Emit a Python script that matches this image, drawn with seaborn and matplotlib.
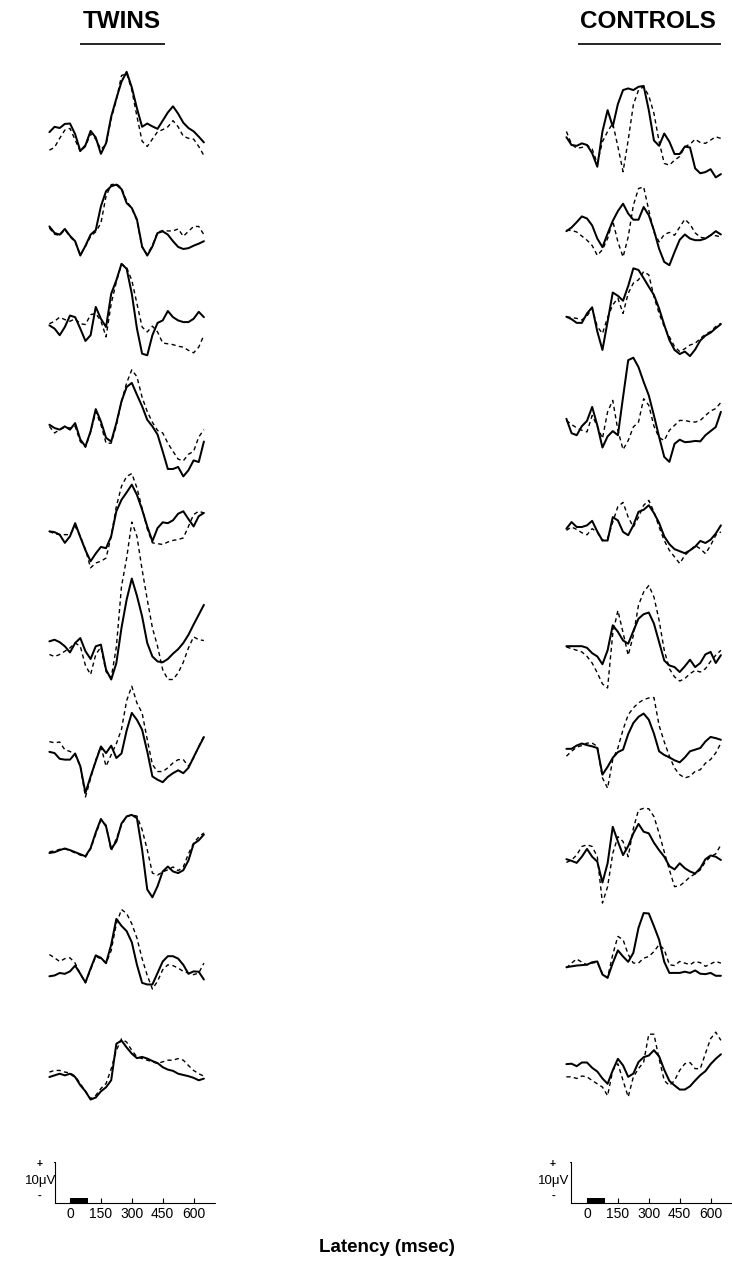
import matplotlib
matplotlib.use("Agg")
import matplotlib.pyplot as plt
import pandas as pd
import seaborn as sns

# ---------------------------------------------------------------------------
# Data: averaged ERP waveforms (microvolts), sampled every 25 ms
# ---------------------------------------------------------------------------
latency_ms = [-100, -75, -50, -25, 0, 25, 50, 75, 100, 125, 150, 175, 200,
              225, 250, 275, 300, 325, 350, 375, 400, 425, 450, 475, 500,
              525, 550, 575, 600, 625, 650]

twins_solid = [
    [0.7, 2.0, 1.7, 2.7, 2.8, 0.2, -3.9, -2.5, 1.0, -0.6, -4.6, -2.0, 4.5, 8.9, 13.0, 15.4, 11.6, 6.5, 2.0, 2.8, 2.1, 1.5, 3.5, 5.5, 7.0, 5.2, 3.0, 1.7, 0.9, -0.4, -1.8],
    [1.6, 0, -0.4, 1.0, -0.7, -2.0, -5.5, -3.1, -0.4, 0.7, 6.5, 10.2, 11.4, 11.8, 10.7, 7.3, 6.1, 3.3, -3.3, -5.5, -3.3, 0, 0.4, -0.4, -2.0, -3.4, -3.9, -3.7, -3.1, -2.6, -2.0],
    [0.4, -0.4, -2.0, 0, 2.8, 2.4, -0.4, -3.4, -2.0, 4.9, 2.0, 0, 8.1, 11.4, 15.4, 14.2, 8.1, -0.4, -6.5, -6.9, -2.0, 1.0, 1.6, 3.9, 2.4, 1.6, 1.2, 1.2, 2.0, 3.7, 2.4],
    [0.8, 0, -0.4, 0.4, -0.4, 1.2, -2.8, -4.5, -0.8, 4.6, 1.6, -2.4, -3.3, 1.2, 6.5, 10.0, 11.0, 8.1, 5.3, 2.0, 0.4, -1.6, -5.7, -10.0, -10.0, -9.5, -11.8, -10.3, -7.9, -8.3, -3.3],
    [0.4, 0.2, -0.4, -2.4, -0.8, 2.4, -1.0, -4.2, -6.9, -5.0, -3.4, -3.7, -0.8, 5.3, 8.1, 9.9, 11.8, 9.3, 5.7, 1.6, -2.0, 1.2, 2.6, 2.4, 3.1, 4.7, 5.3, 3.4, 1.6, 4.1, 4.9],
    [0.4, 0.8, 0.2, -0.8, -2.3, 0, 1.2, -2.0, -3.9, -0.8, -0.4, -6.5, -8.9, -4.9, 3.7, 10.6, 15.7, 11.5, 6.5, 0, -3.3, -4.5, -4.7, -3.9, -2.6, -1.5, 0, 2.0, 4.5, 6.9, 9.3],
    [1.5, 1.2, -0.2, -0.4, -0.4, 1.1, -2.0, -8.5, -4.5, -0.8, 2.8, 1.2, 3.0, 0, 1.1, 6.7, 11.0, 9.3, 6.9, 1.6, -4.5, -5.3, -5.9, -4.6, -3.7, -3.0, -3.7, -2.4, 0.2, 2.7, 5.1],
    [0, 0.2, 0.7, 1.1, 0.7, 0.2, -0.3, -0.8, 1.2, 5.0, 8.3, 6.5, 1.0, 2.8, 7.2, 8.9, 9.3, 8.5, 0.8, -8.9, -10.8, -8.1, -4.5, -3.3, -4.5, -4.9, -4.2, -1.8, 2.2, 3.1, 4.5],
    [-0.8, -0.6, 0, -0.2, 0.4, 1.8, -0.2, -2.3, 1.1, 4.3, 3.7, 2.4, 6.9, 13.2, 11.5, 10.2, 7.5, 2.0, -2.4, -2.8, -2.8, 0, 2.8, 4.1, 4.1, 3.5, 2.0, -0.2, 0.4, 0.3, -1.6],
    [0, 0.4, 0.8, 0.4, 0.8, 0, -2.0, -3.5, -5.5, -5.0, -3.5, -2.5, -0.8, 8.1, 8.9, 7.2, 5.7, 4.6, 4.9, 4.5, 3.9, 3.4, 2.4, 1.8, 1.5, 0.8, 0.5, 0.2, -0.2, -0.8, -0.4],
]

twins_dashed = [
    [-3.7, -3.0, -0.8, 1.2, 1.6, -1.2, -4.0, -2.8, 0.3, -1.0, -3.5, -2.3, 4.0, 8.5, 14.5, 15.0, 11.0, 4.5, -1.5, -2.8, -1.0, 0.8, 1.3, 2.0, 3.5, 2.0, -0.3, -0.8, -1.0, -2.8, -5.0],
    [1.2, -0.3, -0.6, 0.8, -0.9, -2.2, -5.3, -3.3, -0.8, 0.3, 2.4, 9.0, 11.8, 12.0, 11.0, 7.8, 6.0, 3.0, -3.5, -5.3, -3.0, 0.2, 0.6, 0.5, 0.5, 1.0, -0.8, 0.4, 1.6, 1.6, -0.4],
    [0.8, 1.4, 2.4, 1.8, 1.4, 2.0, 0.8, 0.6, 3.0, 3.3, 1.5, -2.4, 5.7, 11.0, 15.4, 14.5, 11.4, 5.7, 0, -1.2, 0.2, -1.2, -3.9, -4.1, -4.3, -4.7, -4.9, -5.7, -6.3, -4.9, -2.0],
    [0.4, -1.2, -0.4, 0.2, 0, 0.4, -3.3, -4.7, -1.0, 4.0, 0.8, -3.7, -3.7, 0.6, 6.5, 11.0, 14.2, 12.5, 7.5, 4.0, 1.4, -0.6, -1.2, -3.7, -5.7, -7.6, -8.0, -6.4, -5.7, -2.2, -0.4],
    [0.4, -0.2, -0.4, -0.4, -0.4, 1.6, -0.8, -4.0, -8.5, -7.3, -6.9, -6.1, -0.8, 6.5, 11.4, 13.8, 14.5, 11.0, 6.0, 1.0, -2.4, -2.6, -2.8, -2.2, -1.8, -1.6, -1.2, 1.6, 4.5, 5.3, 4.9],
    [-2.8, -3.3, -2.8, -2.0, -1.2, 0, -0.8, -5.5, -7.7, -2.8, -1.0, -7.0, -8.5, -1.0, 13.8, 20.7, 29.5, 26.0, 17.9, 10.6, 3.7, -0.8, -6.5, -8.9, -8.9, -7.3, -4.7, -1.2, 1.5, 0.8, 0.6],
    [4.0, 3.7, 3.9, 2.0, 1.6, 0.8, -2.0, -9.5, -5.0, -0.5, 2.8, -2.0, 0.8, 3.5, 7.0, 14.0, 17.5, 13.4, 11.0, 4.5, -1.6, -3.3, -3.3, -2.4, -1.2, -0.4, -0.4, -2.0, 0, 2.8, 5.3],
    [0.3, 0.5, 0.9, 1.0, 0.6, 0.0, -0.5, -1.0, 1.0, 4.6, 8.0, 6.8, 0.5, 3.5, 6.8, 9.0, 9.3, 9.0, 5.7, 0.8, -4.9, -5.4, -4.6, -4.1, -3.4, -4.3, -3.4, -0.2, 2.4, 3.9, 4.9],
    [4.5, 3.7, 2.8, 3.5, 3.7, 2.4, -0.2, -2.4, 0.8, 4.0, 3.5, 2.4, 5.5, 12.0, 15.5, 14.5, 12.0, 8.5, 3.5, -0.6, -3.9, -2.0, 0.8, 2.0, 1.8, 1.2, 0.4, 0, -0.4, 0, 2.4],
    [1.2, 1.6, 1.6, 1.2, 1.0, 0.2, -1.6, -3.5, -5.3, -4.5, -2.8, -1.6, 2.0, 6.5, 9.3, 8.5, 6.5, 4.9, 4.5, 4.1, 3.7, 3.3, 3.7, 4.1, 4.1, 4.5, 4.1, 2.8, 1.6, 0.8, 0.2],
]

controls_solid = [
    [1.9, 0, -0.2, 0.4, 0, -2.0, -5.3, 3.3, 8.5, 4.5, 10.0, 13.4, 13.8, 13.4, 14.2, 14.4, 8.5, 1.1, -0.2, 2.8, 0.8, -2.2, -2.2, -0.4, -0.6, -5.7, -6.9, -6.6, -5.9, -7.9, -7.1],
    [0.2, 1.1, 2.4, 3.8, 3.3, 1.6, -1.6, -3.7, -0.4, 2.7, 5.1, 6.9, 4.5, 3.0, 3.0, 6.1, 4.1, 0.4, -4.1, -7.3, -8.1, -4.9, -1.9, -0.6, -1.6, -2.0, -2.0, -1.6, -0.8, 0.2, -0.6],
    [0.8, 0.2, -0.7, -0.7, 1.6, 3.1, -2.8, -7.3, -0.4, 6.7, 5.9, 4.7, 8.3, 12.6, 12.2, 10.2, 8.1, 6.1, 2.8, -1.2, -4.9, -7.3, -8.3, -7.7, -8.8, -7.2, -5.0, -3.8, -3.1, -2.0, -1.0],
    [2.0, -1.5, -2.0, 0.2, 1.5, 4.9, 0.4, -5.0, -2.3, -1.0, -2.0, 7.3, 16.3, 16.9, 14.6, 11.0, 7.7, 2.8, -2.4, -7.3, -8.5, -4.1, -3.1, -3.7, -3.6, -3.4, -3.5, -2.0, -1.0, 0, 3.7],
    [-0.4, 1.2, 0, 0, 0.4, 1.5, -1.1, -3.3, -3.3, 2.4, 1.6, -1.2, -2.0, 0.4, 3.7, 4.2, 5.3, 3.4, 1.0, -2.3, -4.2, -5.4, -5.9, -6.4, -5.7, -4.8, -3.4, -3.9, -3.1, -1.6, 0.4],
    [0.2, 0.2, 0.2, 0.2, -0.2, -1.5, -2.3, -4.2, -0.8, 5.3, 3.7, 1.6, 0.8, 3.9, 6.9, 8.0, 8.4, 5.7, 1.2, -3.3, -4.5, -4.9, -6.1, -4.7, -3.1, -4.9, -3.9, -1.8, -1.2, -3.9, -2.0],
    [-0.2, -0.2, 0.6, 1.1, 0.7, 0.4, 0, -6.5, -4.6, -2.4, -1.0, -0.4, 3.4, 6.1, 7.6, 8.4, 6.9, 3.5, -0.8, -1.7, -2.3, -3.0, -3.5, -2.3, -0.8, -0.4, 0, 1.6, 2.7, 2.4, 2.0],
    [0.2, -0.2, -0.7, 0.8, 2.7, 0.8, -0.4, -5.5, -0.8, 8.1, 4.5, 1.2, 3.4, 6.5, 8.8, 6.9, 6.5, 4.2, 2.4, 0.8, -1.5, -2.3, -0.8, -2.0, -2.8, -3.3, -2.0, 0.2, 1.1, 0.8, 0],
    [0.2, 0.4, 0.6, 0.7, 0.8, 1.4, 1.6, -1.6, -2.4, 1.2, 4.3, 2.8, 1.5, 3.7, 9.8, 13.4, 13.3, 10.2, 6.9, 1.5, -1.2, -1.2, -1.2, -0.9, -1.2, -0.6, -1.4, -1.5, -1.2, -1.9, -1.9],
    [0.7, 0.8, 0.2, 1.1, 1.1, -0.2, -1.1, -2.8, -4.1, -0.8, 2.0, 0.4, -2.4, -1.6, 1.2, 2.4, 2.8, 4.1, 2.6, -0.7, -3.4, -4.5, -5.5, -5.5, -4.7, -3.3, -2.0, -1.0, 0.7, 2.0, 3.1],
]

controls_dashed = [
    [3.3, 0.2, -0.8, -0.6, 0, -1.0, -4.5, 0.8, 3.3, 5.3, -0.4, -6.5, 1.2, 9.8, 13.4, 14.2, 12.0, 7.7, 0.8, -4.5, -4.9, -3.7, -2.8, -0.4, 0.2, 1.4, 0.6, 0.4, 1.2, 2.0, 1.6],
    [0.4, 0.4, 0, -1.0, -2.0, -3.3, -5.7, -4.3, -1.6, 2.7, -2.4, -6.1, -1.2, 6.5, 10.6, 11.0, 5.3, 0, -2.4, -0.6, -0.1, -0.8, 1.2, 3.1, 1.9, -0.2, -1.3, -1.5, -0.8, -0.9, -1.2],
    [0.8, 0.6, 0.4, 0, 1.0, 2.8, -1.6, -3.3, 0.6, 3.7, 5.3, 1.6, 6.5, 9.0, 9.8, 11.8, 11.0, 5.7, 1.6, -1.6, -4.1, -6.5, -7.7, -7.0, -6.1, -5.7, -4.5, -3.5, -2.8, -1.6, -0.8],
    [1.6, 0.6, -0.2, -0.8, -1.2, 2.8, 0.2, -2.8, 3.7, 6.5, -0.8, -5.5, -3.3, 0, 1.2, 6.9, 5.3, 0.2, -2.6, -3.3, -0.8, 0.4, 1.6, 1.6, 1.3, 1.2, 1.6, 2.8, 3.9, 4.5, 6.0],
    [-0.8, 0, -0.6, -1.4, -1.9, -0.4, -1.3, -3.3, -2.8, 1.2, 5.0, 6.0, 2.4, 0, 2.4, 5.3, 6.5, 3.7, 0, -3.3, -5.7, -7.3, -8.9, -6.9, -5.7, -4.5, -5.3, -6.5, -4.5, -2.0, -1.2],
    [0, -0.4, -0.8, -1.2, -2.3, -3.9, -6.3, -9.0, -10.0, 3.3, 8.9, 3.5, -2.0, 2.8, 10.2, 13.4, 15.0, 12.2, 6.5, -0.8, -5.3, -7.3, -8.3, -7.7, -6.5, -5.7, -6.1, -5.3, -3.5, -2.0, -0.8],
    [-2.0, -0.8, 0.2, 0.6, 1.2, 1.2, 0.4, -7.3, -9.8, -2.8, 0, 4.5, 8.1, 9.8, 11.0, 11.8, 12.2, 12.3, 5.5, 1.5, -2.0, -4.9, -6.5, -7.3, -6.9, -5.7, -5.3, -3.7, -2.8, -1.2, 1.2],
    [-0.6, 0, 1.2, 3.3, 3.7, 3.3, 0.8, -10.5, -6.5, 1.6, 5.7, 4.5, 0.8, 7.7, 12.2, 12.6, 12.5, 10.6, 6.5, 2.0, -2.4, -6.5, -6.3, -5.3, -4.1, -3.4, -2.4, -0.4, 0.8, 1.5, 3.7],
    [0, 1.2, 2.2, 1.4, 0.8, 1.2, 1.4, -1.4, -2.4, 3.3, 7.7, 6.9, 3.3, 1.2, 1.2, 2.4, 2.8, 4.0, 5.7, 4.5, 0.8, 0.6, 1.6, 1.2, 0.8, 1.6, 1.3, 0.4, 1.0, 1.6, 1.2],
    [-2.4, -2.4, -2.8, -2.2, -2.4, -3.3, -4.1, -4.9, -7.0, -0.8, 0.8, -3.3, -7.3, -2.4, -0.4, 1.2, 8.0, 8.0, 2.0, -3.3, -4.5, -3.3, -0.8, 0.8, 1.1, -0.4, -0.4, 3.3, 6.9, 8.5, 6.5],
]

scale_ticks_ms = [0, 150, 300, 450, 600]
scale_uv = 10
stimulus_ms = [0, 85]

# ---------------------------------------------------------------------------
# Layout (pixels of the 732 x 1272 page)
# ---------------------------------------------------------------------------
W, H = 732, 1272
PX_PER_MS = 0.206
PX_PER_UV = 4.1
TEXT_FONT = ["Liberation Sans", "DejaVu Sans"]

panels = [
    dict(title="TWINS", solid=twins_solid, dashed=twins_dashed,
         base=[135, 233, 327, 428, 533, 643, 758, 853, 973, 1077],
         zero=70, left=0, title_x=122, rule=(80, 165),
         bar_x=55, axis_end=215, label_x=41),
    dict(title="CONTROLS", solid=controls_solid, dashed=controls_dashed,
         base=[145, 232, 320, 427, 527, 647, 748, 860, 968, 1067],
         zero=587, left=W / 2, title_x=648, rule=(578, 721),
         bar_x=571, axis_end=732, label_x=554),
]


def long_table(solid, dashed, base):
    rows = []
    for i in range(len(solid)):
        for kind, trace in (("solid", solid[i]), ("dashed", dashed[i])):
            for t, v in zip(latency_ms, trace):
                rows.append({"row": i, "kind": kind, "ms": t, "uv": v,
                             "y": v - base[i] / PX_PER_UV})
    return pd.DataFrame(rows)


sns.set_style("white")
plt.rcParams["text.color"] = "black"
fig = plt.figure(figsize=(W / 100, H / 100), dpi=100)

for p in panels:
    ax = fig.add_axes([p["left"] / W, 0, 0.5, 1])
    zero = p["zero"]

    def px_x(px):
        return (px - zero) / PX_PER_MS

    def px_y(py):
        return -py / PX_PER_UV

    ax.set_xlim(px_x(p["left"]), px_x(p["left"] + W / 2))
    ax.set_ylim(-H / PX_PER_UV, 0)
    ax.axis("off")

    df = long_table(p["solid"], p["dashed"], p["base"])
    sns.lineplot(data=df[df["kind"] == "solid"], x="ms", y="y", units="row",
                 estimator=None, color="black", lw=1.45, ax=ax, legend=False)
    sns.lineplot(data=df[df["kind"] == "dashed"], x="ms", y="y", units="row",
                 estimator=None, color="black", lw=1.0,
                 linestyle=(0, (3, 2.4)), ax=ax, legend=False)

    # column heading with rule
    ax.text(px_x(p["title_x"]), px_y(21), p["title"], ha="center",
            va="center", fontsize=17.5, fontweight="bold", family=TEXT_FONT,
            color="black")
    ax.plot([px_x(p["rule"][0]), px_x(p["rule"][1])], [px_y(43.5)] * 2,
            color="black", lw=1.2, solid_capstyle="butt")

    # calibration: 10 uV and latency scale
    y0 = px_y(1203)
    xb = px_x(p["bar_x"])
    ax.plot([xb, xb], [y0, y0 + scale_uv], color="black", lw=0.8)
    ax.plot([xb - 6, xb], [y0 + scale_uv] * 2, color="black", lw=0.8)
    ax.plot([xb, px_x(p["axis_end"])], [y0, y0], color="black", lw=0.8)
    ax.vlines(scale_ticks_ms, y0, y0 + 1.3, color="black", lw=0.8)
    ax.fill_between(stimulus_ms, y0, y0 + 1.2, color="black", lw=0)
    for t in scale_ticks_ms:
        ax.text(t, px_y(1214), str(t), ha="center", va="center",
                fontsize=10, family=TEXT_FONT, color="black")
    ax.text(px_x(p["label_x"]), px_y(1181), "10\u03bcV", ha="center",
            va="center", fontsize=9.5, family=TEXT_FONT, color="black")
    ax.text(px_x(p["label_x"] - 1), px_y(1164), "+", ha="center",
            va="center", fontsize=7.5, fontweight="bold", family=TEXT_FONT,
            color="black")
    ax.text(px_x(p["label_x"] - 1), px_y(1196), "-", ha="center",
            va="center", fontsize=8, fontweight="bold", family=TEXT_FONT,
            color="black")

fig.text(387 / W, 1 - 1247 / H, "Latency (msec)", ha="center", va="center",
         fontsize=13.5, fontweight="bold", family=TEXT_FONT, color="black")

fig.savefig("out.png", dpi=100)
